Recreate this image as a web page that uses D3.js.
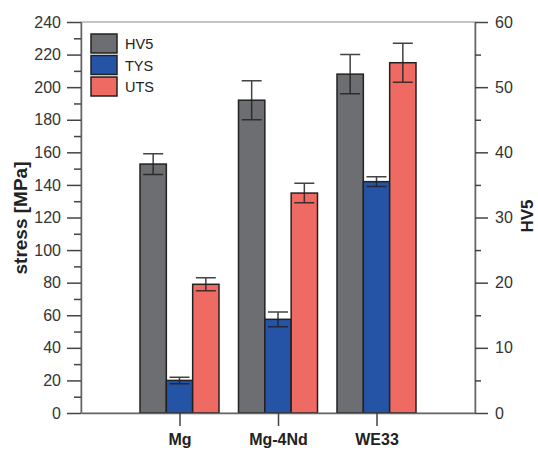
<!DOCTYPE html>
<html>
<head>
<meta charset="utf-8">
<script src="https://cdn.jsdelivr.net/npm/d3@7"></script>
<style>
  body { margin: 0; background: #fff; }
  svg { display: block; font-family: "Liberation Sans", Arial, sans-serif; }
</style>
</head>
<body>
<script>
const width = 538, height = 450;

// data
const alloys = ["Mg", "Mg-4Nd", "WE33"];
const series = ["HV5", "TYS", "UTS"];
const hv5 = [38.2, 48, 52];          // HV units, right axis
const hv5Err = [1.6, 3, 3];
const tys = [20, 57.5, 142];          // MPa
const tysErr = [2, 4.5, 3];
const uts = [79, 135, 215];           // MPa
const utsErr = [4, 6, 12];
const stressTicks = d3.range(0, 241, 20);
const hvTicks = d3.range(0, 61, 10);

const colors = { HV5: "#6d6e71", TYS: "#2553a6", UTS: "#ef6a62" };

const plotL = 81, plotR = 475, plotT = 22, plotB = 413;

const y = d3.scaleLinear().domain([0, 240]).range([plotB, plotT]);
const yHV = d3.scaleLinear().domain([0, 60]).range([plotB, plotT]);
const xPos = d3.scalePoint().domain(["", ...alloys, " "]).range([plotL, plotR]);
const xSub = d3.scaleBand().domain(series).range([-39.5, 39.5]);

const rows = [];
alloys.forEach((a, i) => {
  rows.push({alloy: a, key: "HV5", top: yHV(hv5[i]), hi: yHV(hv5[i] + hv5Err[i]), lo: yHV(hv5[i] - hv5Err[i])});
  rows.push({alloy: a, key: "TYS", top: y(tys[i]), hi: y(tys[i] + tysErr[i]), lo: y(tys[i] - tysErr[i])});
  rows.push({alloy: a, key: "UTS", top: y(uts[i]), hi: y(uts[i] + utsErr[i]), lo: y(uts[i] - utsErr[i])});
});

const svg = d3.select("body").append("svg")
    .attr("width", width)
    .attr("height", height);

// frame
svg.append("rect")
    .attr("x", plotL).attr("y", plotT)
    .attr("width", plotR - plotL).attr("height", plotB - plotT)
    .attr("fill", "none")
    .attr("stroke", "#8a8a8a")
    .attr("stroke-width", 1);

// bars
const bar = svg.append("g")
  .selectAll("g")
  .data(rows)
  .join("g")
    .attr("transform", d => `translate(${xPos(d.alloy) + xSub(d.key)},0)`);

bar.append("rect")
    .attr("x", 0)
    .attr("y", d => d.top)
    .attr("width", xSub.bandwidth())
    .attr("height", d => plotB - d.top)
    .attr("fill", d => colors[d.key])
    .attr("stroke", "#222")
    .attr("stroke-width", 1.5);

// error bars
const cx = xSub.bandwidth() / 2, cap = 10;
bar.append("path")
    .attr("d", d => `M${cx},${d.hi}V${d.lo}M${cx - cap},${d.hi}H${cx + cap}M${cx - cap},${d.lo}H${cx + cap}`)
    .attr("fill", "none")
    .attr("stroke", "#222")
    .attr("stroke-opacity", 0.85)
    .attr("stroke-width", 1.5);

// left axis
const yAxis = svg.append("g")
    .attr("transform", `translate(${plotL},0)`)
    .call(d3.axisLeft(y).tickValues(stressTicks).tickSize(14).tickSizeOuter(0).tickPadding(6));
yAxis.append("g")
    .call(d3.axisLeft(y).tickValues(d3.range(10, 240, 20)).tickSize(7).tickFormat(""))
    .call(g => g.select(".domain").remove());

// right axis
const hvAxis = svg.append("g")
    .attr("transform", `translate(${plotR},0)`)
    .call(d3.axisRight(yHV).tickValues(hvTicks).tickSize(13).tickSizeOuter(0).tickPadding(7));
hvAxis.append("g")
    .call(d3.axisRight(yHV).tickValues(d3.range(5, 60, 10)).tickSize(6).tickFormat(""))
    .call(g => g.select(".domain").remove());

// bottom axis
const xAxis = svg.append("g")
    .attr("transform", `translate(0,${plotB})`)
    .call(d3.axisBottom(xPos).tickValues(alloys).tickSize(13).tickSizeOuter(0).tickPadding(8));

svg.selectAll(".domain").attr("stroke", "#666").attr("stroke-width", 1.5);
svg.selectAll(".tick line").attr("stroke", "#444").attr("stroke-width", 1.5);
yAxis.selectAll(".tick text").attr("font-size", 16).attr("fill", "#333").attr("font-family", "Liberation Sans, Arial, sans-serif");
hvAxis.selectAll(".tick text").attr("font-size", 16).attr("fill", "#333").attr("font-family", "Liberation Sans, Arial, sans-serif");
xAxis.selectAll(".tick text").attr("font-size", 16).attr("font-weight", "bold").attr("fill", "#222").attr("font-family", "Liberation Sans, Arial, sans-serif");

// axis titles
svg.append("text")
    .attr("transform", `translate(27,218) rotate(-90)`)
    .attr("text-anchor", "middle")
    .attr("font-size", 19)
    .attr("font-weight", "bold")
    .attr("fill", "#222")
    .text("stress [MPa]");

svg.append("text")
    .attr("transform", `translate(533,216) rotate(-90)`)
    .attr("text-anchor", "middle")
    .attr("font-size", 17)
    .attr("font-weight", "bold")
    .attr("fill", "#222")
    .text("HV5");

// legend
const legend = svg.append("g")
    .attr("transform", "translate(91,34)")
  .selectAll("g")
  .data(series)
  .join("g")
    .attr("transform", (d, i) => `translate(0,${i * 21.5})`);

legend.append("rect")
    .attr("width", 26)
    .attr("height", 19)
    .attr("fill", d => colors[d])
    .attr("stroke", "#222")
    .attr("stroke-width", 1.5);

legend.append("text")
    .attr("x", 34)
    .attr("y", 15)
    .attr("font-size", 14.5)
    .attr("fill", "#222")
    .text(d => d);
</script>
</body>
</html>
